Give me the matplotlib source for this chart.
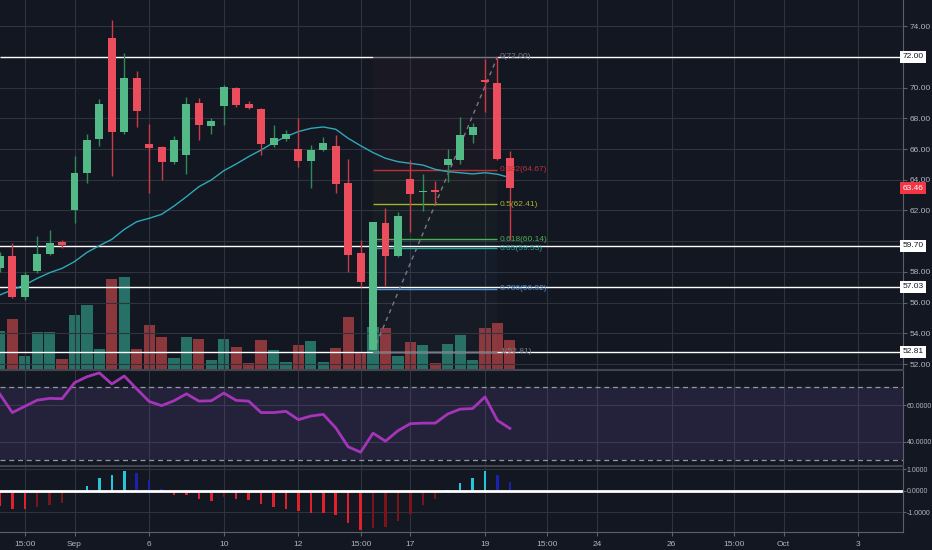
import matplotlib.pyplot as plt

plt.rcParams['font.family'] = ['Liberation Sans', 'DejaVu Sans']

# daily candles, one entry per bar
opens  = [58.24, 59.04, 56.38, 58.06, 59.17, 59.93, 62.03, 64.46, 66.63, 73.26,
          67.10, 70.61, 66.33, 66.16, 65.18, 65.62, 68.98, 67.50, 68.81, 69.96,
          68.92, 68.59, 66.27, 66.66, 65.98, 65.25, 65.94, 66.20, 63.77, 59.21,
          52.91, 61.20, 59.04, 64.03, 63.18, 63.33, 64.94, 65.29, 66.92, 70.50,
          70.33, 65.40]
highs  = [59.30, 59.90, 58.01, 60.34, 60.73, 60.10, 65.55, 66.98, 69.29, 74.41,
          72.24, 71.09, 67.64, 66.20, 66.85, 69.37, 69.35, 68.00, 70.18, 70.02,
          69.16, 68.66, 67.57, 67.24, 68.00, 66.27, 66.81, 66.92, 65.33, 60.08,
          61.27, 62.14, 61.92, 65.29, 64.38, 63.92, 65.98, 68.11, 67.72, 71.85,
          72.00, 65.90]
lows   = [58.00, 56.30, 56.17, 57.95, 59.10, 59.55, 61.20, 63.77, 66.20, 64.27,
          67.00, 67.42, 63.12, 63.99, 65.00, 64.38, 66.59, 66.96, 67.57, 68.72,
          68.60, 65.62, 66.16, 66.55, 64.86, 63.49, 65.85, 63.16, 58.02, 57.04,
          52.81, 57.08, 59.00, 60.62, 61.99, 62.51, 63.88, 65.03, 66.42, 68.40,
          65.30, 60.10]
closes = [59.04, 56.38, 57.78, 59.17, 59.87, 59.75, 64.42, 66.59, 68.92, 67.14,
          70.61, 68.50, 66.09, 65.18, 66.59, 68.94, 67.55, 67.83, 70.02, 68.87,
          68.70, 66.33, 66.70, 66.98, 65.22, 65.94, 66.42, 63.70, 59.10, 57.36,
          61.27, 59.04, 61.64, 63.07, 63.29, 63.23, 65.33, 66.92, 67.42, 70.35,
          65.36, 63.46]
ma_line = [56.50, 56.83, 57.15, 57.58, 57.95, 58.23, 58.67, 59.27, 59.71, 60.12,
           60.77, 61.27, 61.49, 61.75, 62.29, 62.90, 63.55, 63.99, 64.59, 65.03,
           65.51, 65.94, 66.42, 66.81, 67.14, 67.35, 67.44, 67.29, 66.70, 66.22,
           65.77, 65.40, 65.18, 65.07, 64.96, 64.68, 64.53, 64.46, 64.38, 64.46,
           64.36, 64.14]
volume = [3.9, 5.1, 1.4, 3.8, 3.8, 1.1, 5.5, 6.5, 2.1, 9.1,
          9.3, 2.1, 4.5, 3.3, 1.2, 3.3, 3.1, 1.0, 3.1, 2.3,
          0.7, 3.0, 2.0, 0.8, 2.5, 2.9, 0.8, 2.2, 5.3, 1.7,
          4.3, 4.2, 1.4, 2.8, 2.5, 0.7, 2.6, 3.5, 1.0, 4.2,
          4.7, 3.0]
rsi = [66.2, 56.1, 59.5, 62.9, 63.9, 63.7, 72.5, 75.8, 77.9, 71.8,
       76.2, 69.1, 62.2, 59.9, 62.6, 66.4, 62.4, 62.6, 66.8, 62.8,
       62.4, 56.1, 56.1, 56.8, 52.2, 54.2, 55.1, 47.7, 37.3, 34.3,
       44.8, 40.4, 46.1, 50.0, 50.3, 50.3, 55.3, 58.0, 58.3, 64.7,
       51.8, 47.4]
macd_hist = [-0.73, -0.85, -0.85, -0.76, -0.65, -0.56, -0.05, 0.21, 0.61, 0.73,
             0.94, 0.84, 0.48, 0.08, -0.19, -0.21, -0.37, -0.48, -0.29, -0.37,
             -0.44, -0.61, -0.77, -0.84, -0.97, -1.05, -1.05, -1.16, -1.50, -1.85,
             -1.74, -1.69, -1.40, -1.08, -0.68, -0.37, 0.05, 0.37, 0.61, 0.94,
             0.73, 0.40]

tick_pos = [2, 6, 12, 18, 24, 29, 33, 39, 44, 48, 54, 59, 63, 69]
tick_labels = ['15:00', 'Sep', '6', '10', '12', '15:00', '17', '19',
               '15:00', '24', '26', '15:00', 'Oct', '3']

levels = [72.00, 59.70, 57.03, 52.81]
last_price = 63.46
fib_high, fib_low = 72.00, 52.81
fib_start, fib_end = 30, 40
fib_ratios = [0, 0.382, 0.5, 0.618, 0.65, 0.786, 1]
fib_colors = ['#787b86', '#b8323c', '#a8b030', '#4caf50', '#26a69a', '#4f8fd0', '#787b86']

bg = '#131722'
grid_col = '#2f333e'
axis_col = '#5d606b'
text_col = '#b2b5be'
up_col, down_col = '#53b987', '#eb4d5c'
up_wick, down_wick = '#2e8b57', '#cf3a47'
up_vol, down_vol = '#267065', '#8c373c'

W, H = 932, 550
right_px = 902.7


def rect(top, bottom):
    return [0, 1 - bottom / H, right_px / W, (bottom - top) / H]


fig = plt.figure(figsize=(W / 100, H / 100), dpi=100, facecolor=bg)
ax_vol = fig.add_axes(rect(0, 370))
ax = fig.add_axes(rect(0, 370), sharex=ax_vol)
ax_rsi = fig.add_axes(rect(370, 465.7), sharex=ax_vol)
ax_macd = fig.add_axes(rect(465.7, 532.3), sharex=ax_vol)

x = list(range(len(opens)))
up = [c >= o for o, c in zip(opens, closes)]

for a in (ax_vol, ax, ax_rsi, ax_macd):
    a.set_facecolor(bg)
    for s in ('left', 'top', 'bottom'):
        a.spines[s].set_visible(False)
    a.spines['right'].set_color(axis_col)
    a.yaxis.tick_right()
    a.tick_params(axis='y', colors=axis_col, labelcolor=text_col, labelsize=6,
                  length=3, width=0.8, pad=2)
    a.tick_params(axis='x', colors=axis_col, labelcolor=text_col, labelsize=6,
                  length=3, width=0.8, pad=3, labelbottom=False, bottom=False)
    a.set_xticks(tick_pos)
    a.grid(True, color=grid_col, lw=0.8)
    a.set_axisbelow(True)

ax.patch.set_visible(False)
ax_vol.yaxis.set_visible(False)
ax_vol.grid(False)
ax_vol.spines['right'].set_visible(False)
ax_vol.set_xlim(0.01, 72.58)

# volume under the candles
ax_vol.bar(x, volume, width=0.9, color=[up_vol if u else down_vol for u in up])
ax_vol.set_ylim(0, 37)

# price pane; the 60 and 72 labels sit behind the level boxes
price_ticks = list(range(52, 76, 2))
ax.set_ylim(51.61, 75.71)
ax.set_yticks(price_ticks)
ax.set_yticklabels(['' if v in (60, 72) else f'{v:.2f}' for v in price_ticks])

ax.hlines(levels[0], 0, fib_start, color='white', lw=1, zorder=2)
ax.hlines(levels[0], fib_end, 72.58, color='white', lw=1, zorder=2)
for lv in levels[1:]:
    ax.axhline(lv, color='white', lw=1, zorder=2)

# fib retracement
fib_prices = [fib_high - r * (fib_high - fib_low) for r in fib_ratios]
for i in range(len(fib_prices) - 1):
    ax.fill_between([fib_start, fib_end], fib_prices[i], fib_prices[i + 1],
                    color=fib_colors[i + 1], alpha=0.045, lw=0, zorder=1)
for r, p, c in zip(fib_ratios, fib_prices, fib_colors):
    ax.hlines(p, fib_start, fib_end, color=c, lw=1, zorder=2)
    ax.text(fib_end + 0.2, p, f'{r:g}({p + 1e-6:.2f})', color=c, fontsize=6,
            ha='left', va='center', zorder=6)
ax.plot([fib_start, fib_end], [fib_low, fib_high], color='#787b86', lw=1,
        ls=(0, (3, 3)), zorder=2)

ax.plot(x, ma_line, color='#2fa8b8', lw=1.0, zorder=3)

bodies_b = [min(o, c) for o, c in zip(opens, closes)]
bodies_h = [max(abs(c - o), 0.12) for o, c in zip(opens, closes)]
ax.vlines(x, lows, highs, colors=[up_wick if u else down_wick for u in up],
          lw=1, zorder=4)
ax.bar(x, bodies_h, bottom=bodies_b, width=0.64,
       color=[up_col if u else down_col for u in up], zorder=5)

ytr = ax.get_yaxis_transform()
for lv in levels:
    ax.text(1.0, lv, f'{lv:.2f}', transform=ytr, ha='left', va='center',
            fontsize=6, color=bg, clip_on=False, zorder=10,
            bbox=dict(boxstyle='square,pad=0.3', fc='white', ec='none'))
ax.text(1.0, last_price, f'{last_price:.2f}', transform=ytr, ha='left',
        va='center', fontsize=6, color='white', clip_on=False, zorder=10,
        bbox=dict(boxstyle='square,pad=0.3', fc='#f23645', ec='none'))

# RSI pane
ax_rsi.axhspan(30, 70, color='#7e57c2', alpha=0.16, lw=0)
ax_rsi.axhline(70, color='#9598a1', lw=0.9, ls=(0, (4, 3)))
ax_rsi.axhline(30, color='#9598a1', lw=0.9, ls=(0, (4, 3)))
ax_rsi.plot(x, rsi, color='#a535b8', lw=2)
ax_rsi.set_ylim(26.9, 79.5)
ax_rsi.set_yticks([40, 60])
ax_rsi.set_yticklabels(['40.0000', '60.0000'])
ax_rsi.spines['top'].set_visible(True)
ax_rsi.spines['top'].set_color('#434651')
ax_rsi.spines['top'].set_linewidth(1.5)

# MACD histogram pane
hist_cols = []
for i, v in enumerate(macd_hist):
    prev = macd_hist[i - 1] if i > 0 else v
    if v >= 0:
        hist_cols.append('#26c6da' if v >= prev else '#1c22b0')
    else:
        hist_cols.append('#e0202a' if v <= prev else '#7a1418')
ax_macd.bar(x, macd_hist, width=0.2, color=hist_cols)
ax_macd.axhline(0, color='white', lw=2)
ax_macd.set_ylim(-1.95, 1.17)
ax_macd.set_yticks([-1, 0, 1])
ax_macd.set_yticklabels(['-1.0000', '0.0000', '1.0000'])
ax_macd.spines['top'].set_visible(True)
ax_macd.spines['top'].set_color('#434651')
ax_macd.spines['top'].set_linewidth(1.5)
ax_macd.spines['bottom'].set_visible(True)
ax_macd.spines['bottom'].set_color(axis_col)
ax_macd.tick_params(axis='x', labelbottom=True, bottom=True)
ax_macd.set_xticklabels(tick_labels)

for a in (ax_rsi, ax_macd):
    a.tick_params(axis='y', labelsize=5, length=2, pad=1)

fig.savefig('out.png', dpi=100, facecolor=bg)
